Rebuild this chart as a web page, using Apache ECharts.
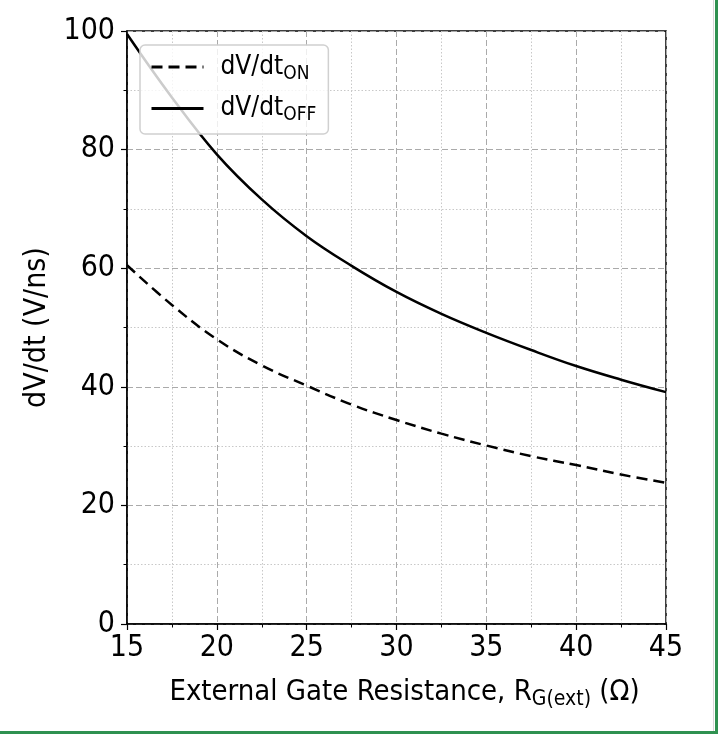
<!DOCTYPE html>
<html>
<head>
<meta charset="utf-8">
<script src="https://cdn.jsdelivr.net/npm/echarts@6/dist/echarts.min.js"></script>
<style>
html,body{margin:0;padding:0;background:#fff;}
#wrap{position:relative;width:718px;height:734px;overflow:hidden;}
#chart{position:absolute;left:0;top:0;width:718px;height:734px;}
#bR{position:absolute;left:715px;top:0;width:3px;height:734px;background:#2f9150;}
#bR2{position:absolute;left:713px;top:0;width:1px;height:731px;background:#d8d8d8;}
#bB{position:absolute;left:0;top:731px;width:718px;height:3px;background:#2f9150;}
</style>
</head>
<body>
<div id="wrap"><div id="chart"></div><div id="bR2"></div><div id="bR"></div><div id="bB"></div></div>
<script>
var FONT = "'DejaVu Sans Condensed','DejaVu Sans',sans-serif";
var resistance = [15, 17.5, 20, 22.5, 25, 27.5, 30, 32.5, 35, 37.5, 40, 42.5, 45];
var dvdtOn  = [60.5, 53.8, 48.0, 43.6, 40.2, 37.0, 34.4, 32.1, 30.1, 28.3, 26.8, 25.2, 23.8];
var dvdtOff = [99.5, 88.8, 79.2, 71.6, 65.4, 60.4, 56.0, 52.3, 49.1, 46.2, 43.5, 41.2, 39.1];
var xTicks = [15, 20, 25, 30, 35, 40, 45];
var yTicks = [0, 20, 40, 60, 80, 100];
var seriesNames = ['dV/dt_ON', 'dV/dt_OFF'];

function pairs(xs, ys){ return xs.map(function(x,i){ return [x, ys[i]]; }); }

var chart = echarts.init(document.getElementById('chart'));
var axisCommon = {
  axisLine: {show: true, onZero: false, lineStyle: {color: '#000', width: 1.5}},
  axisTick: {show: true, inside: false, length: 6, lineStyle: {color: '#000', width: 1.2}},
  minorTick: {show: true, splitNumber: 2, length: 3.5, lineStyle: {color: '#000', width: 1}},
  splitLine: {show: true, lineStyle: {color: '#aaaaaa', width: 1, type: [6, 3]}},
  minorSplitLine: {show: true, lineStyle: {color: '#c8c8c8', width: 1, type: [1.5, 2]}},
  axisLabel: {color: '#000', fontFamily: FONT, fontSize: 30}
};
chart.setOption({
  animation: false,
  backgroundColor: '#fff',
  grid: {left: 127, right: 52, top: 31, bottom: 110, show: true, borderColor: '#000', borderWidth: 1.5, backgroundColor: 'transparent'},
  legend: {
    show: true, orient: 'vertical', left: 140, top: 45,
    data: seriesNames,
    itemWidth: 52, itemHeight: 16, itemGap: 12,
    padding: [9, 12, 9, 10],
    itemStyle: {opacity: 0},
    lineStyle: {width: 3},
    backgroundColor: 'rgba(255,255,255,0.8)', borderColor: '#d0d0d0', borderWidth: 1.5, borderRadius: 5,
    formatter: function(n){ var p = n.split('_'); return '{a|' + p[0] + '}{b|' + p[1] + '}'; },
    textStyle: {
      color: '#000', fontFamily: FONT, fontSize: 26,
      rich: {
        a: {fontFamily: FONT, fontSize: 26, color: '#000', padding: [0,0,0,12]},
        b: {fontFamily: FONT, fontSize: 19, color: '#000', verticalAlign: 'bottom', padding: [14,0,0,0]}
      }
    }
  },
  xAxis: Object.assign({}, axisCommon, {
    type: 'value', min: 15, max: 45, interval: 5,
    axisLabel: Object.assign({}, axisCommon.axisLabel, {margin: 9, formatter: function(v){ return xTicks.indexOf(v) >= 0 ? String(v) : ''; }}),
    name: '{a|External Gate Resistance, R}{b|G(ext)}{a| (Ω)}',
    nameLocation: 'middle', nameGap: 50,
    nameTextStyle: {
      fontFamily: FONT, fontSize: 29, color: '#000', padding: [0, 0, 0, 16],
      rich: {
        a: {fontFamily: FONT, fontSize: 29, color: '#000'},
        b: {fontFamily: FONT, fontSize: 21, color: '#000', verticalAlign: 'bottom', padding: [15,0,0,0]}
      }
    }
  }),
  yAxis: Object.assign({}, axisCommon, {
    type: 'value', min: 0, max: 100, interval: 20,
    axisLabel: Object.assign({}, axisCommon.axisLabel, {margin: 12, formatter: function(v){ return yTicks.indexOf(v) >= 0 ? String(v) : ''; }}),
    name: 'dV/dt (V/ns)', nameLocation: 'middle', nameGap: 70,
    nameTextStyle: {fontFamily: FONT, fontSize: 30, color: '#000'}
  }),
  series: [
    {name: seriesNames[0], type: 'line', data: pairs(resistance, dvdtOn), smooth: 0.4, symbol: 'none', showSymbol: false,
     lineStyle: {color: '#000', width: 2.5, type: [11, 6]}, itemStyle: {color: '#000'}},
    {name: seriesNames[1], type: 'line', data: pairs(resistance, dvdtOff), smooth: 0.4, symbol: 'none', showSymbol: false,
     lineStyle: {color: '#000', width: 2.5, type: 'solid'}, itemStyle: {color: '#000'}}
  ]
});
</script>
</body>
</html>
